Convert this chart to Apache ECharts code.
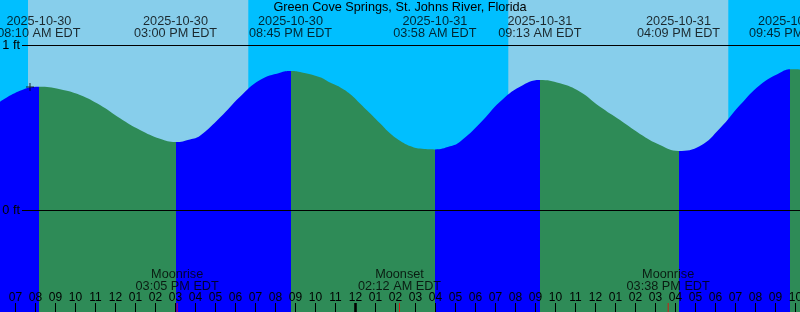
<!DOCTYPE html>
<html>
<head>
<meta charset="utf-8">
<script src="https://cdn.jsdelivr.net/npm/echarts@6/dist/echarts.min.js"></script>
<style>
html,body{margin:0;padding:0;background:#00BFFF;overflow:hidden;}
#chart{width:800px;height:312px;}
</style>
</head>
<body>
<div id="chart"></div>
<script>
// ---- data (hours since 2025-10-30 00:00 EDT, height in ft) ----
const curveTimes = [6.225, 7.225, 8.1667, 9.225, 10.225, 11.225, 12.225, 13.225, 14.225, 15.0, 15.725, 16.225,
  17.225, 18.225, 19.225, 20.225, 20.75, 21.225, 22.225, 22.725, 23.225, 23.725, 24.225, 24.725, 25.225, 25.725,
  26.225, 26.725, 27.225, 27.9667, 28.725, 29.225, 30.225, 31.225, 32.225, 33.2167, 34.225, 35.225, 36.225,
  37.225, 38.225, 39.225, 40.15, 41.225, 42.225, 43.225, 44.225, 45.225, 45.75, 46.225];
const curveHeights = [0.656, 0.723, 0.747, 0.732, 0.697, 0.636, 0.556, 0.485, 0.432, 0.412, 0.428, 0.450,
  0.560, 0.687, 0.788, 0.832, 0.842, 0.836, 0.804, 0.772, 0.744, 0.703, 0.646, 0.586, 0.525, 0.465,
  0.420, 0.388, 0.372, 0.367, 0.386, 0.414, 0.525, 0.656, 0.747, 0.788, 0.768, 0.717, 0.626,
  0.545, 0.461, 0.394, 0.358, 0.388, 0.495, 0.636, 0.758, 0.832, 0.853, 0.852];

const tideEventTimes = [8.1667, 15.0, 20.75, 27.9667, 33.2167, 40.15, 45.75];
const tideEventTypes = ['High', 'Low', 'High', 'Low', 'High', 'Low', 'High'];
const tideEventDates = ['2025-10-30', '2025-10-30', '2025-10-30', '2025-10-31', '2025-10-31', '2025-10-31', '2025-10-31'];
const tideEventClocks = ['08:10 AM EDT', '03:00 PM EDT', '08:45 PM EDT', '03:58 AM EDT', '09:13 AM EDT', '04:09 PM EDT', '09:45 PM EDT'];

const sunriseTimes = [7.625, 31.64];
const sunsetTimes = [18.64, 42.64];

const moonTimes = [15.0833, 26.2, 39.6333];
const moonNames = ['Moonrise', 'Moonset', 'Moonrise'];
const moonClocks = ['03:05 PM EDT', '02:12 AM EDT', '03:38 PM EDT'];

const midnightTimes = [24];
const hourTicks = [7,8,9,10,11,12,13,14,15,16,17,18,19,20,21,22,23,24,25,26,27,28,29,30,31,32,33,34,35,36,37,38,39,40,41,42,43,44,45,46];
const levelLines = [0, 1];
const levelLabels = ['0 ft', '1 ft'];
const nowMarker = [7.725, 0.745];

const titleText = 'Green Cove Springs, St. Johns River, Florida';

// ---- layout ----
const xMin = 6.225, xMax = 46.225;
const yMin = -0.6182, yMax = 1.2727;
const lineStart = 7.325;
const FONT = 'Liberation Sans, Arial, sans-serif';
const FS = 12.7;
const NIGHT = '#00BFFF', DAY = '#87CEEB', FLOOD = '#0000FF', EBB = '#2E8B57';

// visual pieces: rising -> blue, falling -> green
const pieces = [];
let prev = -Infinity;
tideEventTimes.forEach((t, i) => {
  const rising = tideEventTypes[i] === 'High';
  const p = { lt: t, color: rising ? FLOOD : EBB };
  if (prev !== -Infinity) p.gte = prev;
  pieces.push(p);
  prev = t;
});
pieces.push({ gte: prev, color: tideEventTypes[tideEventTypes.length - 1] === 'High' ? EBB : FLOOD });

const chart = echarts.init(document.getElementById('chart'), null, { renderer: 'canvas' });

const option = {
  animation: false,
  backgroundColor: NIGHT,
  textStyle: { fontFamily: FONT },
  title: {
    text: titleText, left: 'center', top: 1, padding: 0,
    textStyle: { fontFamily: FONT, fontSize: FS, fontWeight: 'normal', color: '#000' }
  },
  grid: { left: 0, right: 0, top: 0, bottom: 0, containLabel: false, outerBoundsMode: 'none' },
  xAxis: {
    type: 'value', min: xMin, max: xMax, z: 10, position: 'bottom',
    axisLine: { show: false, onZero: false },
    splitLine: { show: false },
    axisTick: { show: true, inside: true, length: 9, lineStyle: { color: '#000', width: 1 }, customValues: hourTicks },
    axisLabel: {
      show: true, inside: true, margin: 8, customValues: hourTicks, hideOverlap: false,
      showMinLabel: true, showMaxLabel: true,
      fontFamily: FONT, fontSize: 12, color: '#000',
      formatter: v => { let h = Math.round(v) % 12; if (h === 0) h = 12; return (h < 10 ? '0' : '') + h; }
    }
  },
  yAxis: {
    type: 'value', min: yMin, max: yMax,
    axisLine: { show: false }, axisTick: { show: false }, axisLabel: { show: false }, splitLine: { show: false }
  },
  visualMap: { type: 'piecewise', show: false, dimension: 0, seriesIndex: 1, pieces: pieces },
  series: [
    {
      name: 'daylight', type: 'line', data: [], z: 1, silent: true,
      markArea: {
        silent: true,
        itemStyle: { color: DAY },
        data: sunriseTimes.map((t, i) => [{ xAxis: t, yAxis: yMax }, { xAxis: sunsetTimes[i], yAxis: yMin }])
      }
    },
    {
      name: 'tide', type: 'line', z: 2, smooth: 0.45, showSymbol: false, silent: true,
      lineStyle: { width: 0 },
      areaStyle: { opacity: 1, origin: 'start' },
      data: curveTimes.map((t, i) => [t, curveHeights[i]])
    },
    {
      name: 'levels', type: 'line', data: [], z: 3, silent: true,
      markLine: {
        silent: true, symbol: 'none', animation: false,
        lineStyle: { color: '#000', width: 1, type: 'solid' },
        label: { show: true, position: 'start', distance: 2, color: '#000', fontFamily: FONT, fontSize: FS,
          padding: [4, 0, 0, 0],
          formatter: p => levelLabels[levelLines.indexOf(p.value)] },
        data: levelLines.map(v => [{ coord: [lineStart, v], value: v }, { coord: [xMax, v], value: v }])
      }
    },
    {
      name: 'tideEvents', type: 'scatter', z: 4, silent: true, symbolSize: 0,
      data: tideEventTimes.map(t => [t, yMax]),
      label: {
        show: true, position: 'bottom', distance: 15, color: '#000', fontFamily: FONT, fontSize: FS, lineHeight: 12,
        formatter: p => tideEventDates[p.dataIndex] + '\n' + tideEventClocks[p.dataIndex]
      }
    },
    {
      name: 'moon', type: 'scatter', z: 11, silent: true,
      symbol: 'rect', symbolSize: [1, 9], symbolOffset: [0, -4.5],
      itemStyle: { color: '#FF0000' },
      data: moonTimes.map(t => [t, yMin]),
      label: {
        show: true, position: 'top', distance: 11, color: '#000', fontFamily: FONT, fontSize: FS, lineHeight: 12,
        formatter: p => moonNames[p.dataIndex] + '\n' + moonClocks[p.dataIndex]
      }
    },
    {
      name: 'midnight', type: 'scatter', z: 11, silent: true,
      symbol: 'rect', symbolSize: [3, 9], symbolOffset: [0, -4.5],
      itemStyle: { color: '#000' },
      data: midnightTimes.map(t => [t, yMin])
    },
    {
      name: 'now', type: 'scatter', z: 6, silent: true,
      symbol: 'path://M0,3.5h8v1h-8z M3.5,0h1v8h-1z', symbolSize: 8,
      itemStyle: { color: '#000' },
      data: [nowMarker]
    }
  ]
};
chart.setOption(option);
</script>
</body>
</html>
